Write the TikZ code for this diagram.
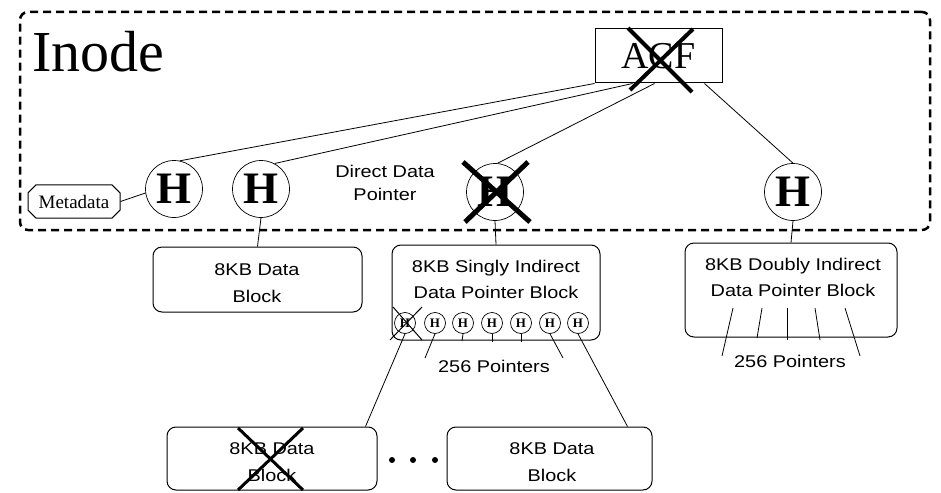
\documentclass[tikz,border=0pt]{standalone}
\usepackage{fontspec}
\setmainfont{Liberation Serif}
\setsansfont{Liberation Sans}[FakeStretch=1.17]
\usetikzlibrary{shapes.misc,calc}
\begin{document}
\begin{tikzpicture}[x=1pt,y=-1pt,
  conn/.style={line width=0.8pt},
  hnode/.style={circle,draw,line width=0.7pt,minimum size=57pt,inner sep=0pt,font=\fontsize{45}{45}\selectfont\bfseries},
  pnode/.style={circle,draw,line width=0.7pt,minimum size=21pt,inner sep=0pt,font=\fontsize{13}{13}\selectfont\bfseries},
  blk/.style={draw,rounded corners=9pt,line width=1pt,inner sep=0pt},
  lbl/.style={font=\fontsize{17}{19}\selectfont\sffamily,align=center,inner sep=0pt},
  cross/.style={line width=#1},
  dot/.style={circle,fill,inner sep=0pt,minimum size=6pt}
]
\useasboundingbox (0,0) rectangle (941,492);
% inode container
\node[draw,dashed,dash pattern=on 8pt off 5pt,line width=2.5pt,rounded corners=8pt,minimum width=910pt,minimum height=218pt,inner sep=0pt] (inode) at (475,121) {};
\node[anchor=base west,inner sep=0pt,font=\fontsize{58}{58}\selectfont] (inodetxt) at (32,72) {Inode};
% ACF
\node[draw,line width=1pt,minimum width=127pt,minimum height=54pt,inner sep=0pt,font=\fontsize{38}{38}\selectfont] (acf) at (658.5,56) {ACF};
\draw[cross=4pt] (628,28) -- (692,92);
\draw[cross=4pt] (693,29) -- (630,90);
% H nodes
\node[hnode] (h1) at (174,189) {H};
\node[hnode] (h2) at (261,189) {H};
\node[hnode] (h3) at (495,192) {H};
\node[hnode] (h4) at (793,192) {H};
\draw[cross=5pt] (463,162) -- (530,222);
\draw[cross=5pt] (528,162) -- (465,222);
% metadata
\node[draw,chamfered rectangle,chamfered rectangle xsep=4pt,chamfered rectangle ysep=4pt,line width=1pt,minimum width=92pt,minimum height=33pt,inner xsep=2pt,inner ysep=6pt,font=\fontsize{19}{19}\selectfont] (meta) at (74,201.5) {Metadata};
\draw[conn] (meta.east) -- (h1.188);
% direct data pointer label
\node[lbl] (ddp) at (385,183) {Direct Data\\[4pt]Pointer};
% connectors from ACF
\draw[conn] (acf.south west) -- (h1.78);
\draw[conn] ([xshift=38pt]acf.south west) -- (h2.62);
\draw[conn] ([xshift=60pt]acf.south west) -- (h3.85);
\draw[conn] ([xshift=110pt]acf.south west) -- (h4.north);
% data block
\node[blk,minimum width=209pt,minimum height=65pt] (db1) at (257.5,279.5) {};
\node[lbl] (db1t) at (257,283) {8KB Data\\[8pt]Block};
\draw[conn] (h2.south) -- (db1.north);
% singly indirect
\node[blk,minimum width=208pt,minimum height=95pt] (sib) at (496,292.5) {};
\node[lbl] (sibt) at (496,279) {8KB Singly Indirect\\[7pt]Data Pointer Block};
\draw[conn] (h3.south) -- (sib.north);
\foreach \i/\x in {1/405,2/435,3/463,4/492,5/521,6/550,7/578}{
  \node[pnode] (p\i) at (\x,323) {H};
}
\draw[cross=1pt] (393,307) -- (422,340);
\draw[cross=1pt] (422,307) -- (390,340);
\coordinate (e2) at (425,358);
\coordinate (e3) at (462,341);
\coordinate (e4) at (492,342);
\coordinate (e5) at (521,342);
\coordinate (e6) at (563,358);
\draw[conn] (p2.south) -- (e2);
\draw[conn] (p3.south) -- (e3);
\draw[conn] (p4.south) -- (e4);
\draw[conn] (p5.south) -- (e5);
\draw[conn] (p6.south) -- (e6);
\node[lbl] (sp) at (494,366) {256 Pointers};
% doubly indirect
\node[blk,minimum width=212pt,minimum height=94pt] (dib) at (791,290) {};
\node[lbl] (dibt) at (793,277) {8KB Doubly Indirect\\[7pt]Data Pointer Block};
\draw[conn] (h4.south) -- (dib.north);
\coordinate (d1a) at (733,308); \coordinate (d1b) at (722,356);
\coordinate (d2a) at (762,308); \coordinate (d2b) at (757,338);
\coordinate (d3a) at (787,308); \coordinate (d3b) at (787,340);
\coordinate (d4a) at (815,308); \coordinate (d4b) at (820,340);
\coordinate (d5a) at (845,308); \coordinate (d5b) at (860,356);
\foreach \k in {1,...,5}{\draw[conn] (d\k a) -- (d\k b);}
\node[lbl] (dp) at (790,361) {256 Pointers};
% bottom blocks
\node[blk,minimum width=210pt,minimum height=63pt] (b1) at (272,458.5) {};
\node[lbl] (b1t) at (272,462) {8KB Data\\[8pt]Block};
\draw[cross=3pt] (238,428) -- (303,490);
\draw[cross=3pt] (303,428) -- (238,490);
\node[blk,minimum width=205pt,minimum height=63pt] (b2) at (549.5,458.5) {};
\node[lbl] (b2t) at (552,462) {8KB Data\\[8pt]Block};
\node[dot] (dot1) at (392,460) {};
\node[dot] (dot2) at (413,460) {};
\node[dot] (dot3) at (435,460) {};
\draw[conn] (p1.south) -- ([xshift=-12pt]b1.north east);
\draw[conn] (p7.south) -- ([xshift=-25pt]b2.north east);
\end{tikzpicture}
\end{document}
